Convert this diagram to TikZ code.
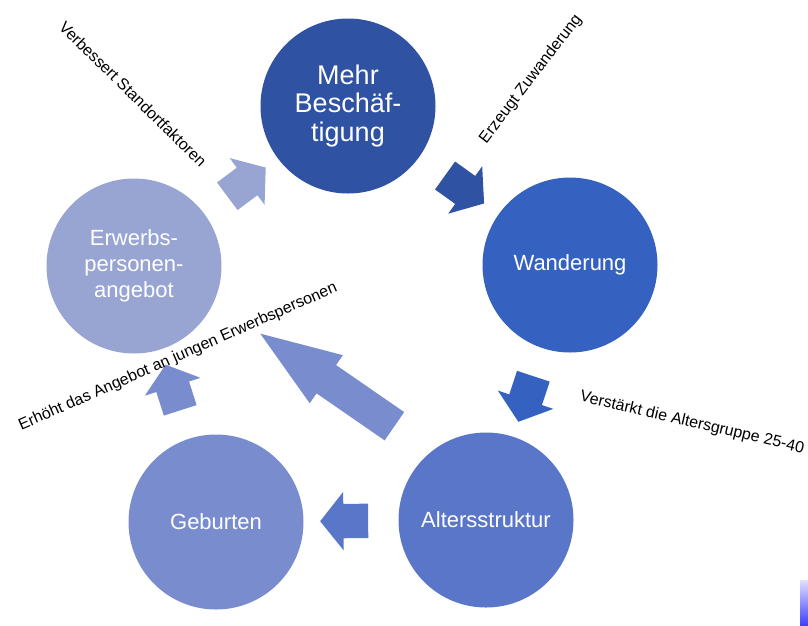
\documentclass[tikz,border=0pt]{standalone}
\usepackage{fontspec}
\setmainfont{Liberation Sans}
\usetikzlibrary{calc,shapes.arrows}
\definecolor{cMehr}{RGB}{47,82,163}
\definecolor{cWand}{RGB}{53,97,193}
\definecolor{cAlter}{RGB}{89,118,200}
\definecolor{cGeb}{RGB}{121,141,206}
\definecolor{cErw}{RGB}{152,165,210}

\begin{document}
\begin{tikzpicture}[x=1pt,y=-1pt,
  kreis/.style={circle,minimum size=175pt,inner sep=0pt,text=white,align=center,
    font=\fontsize{22}{26}\selectfont},
  pfeil/.style={single arrow,inner xsep=0pt,inner ysep=17pt,minimum height=48pt,
    single arrow head extend=12pt,single arrow tip angle=103},
  lab/.style={inner sep=0pt,font=\fontsize{16}{19}\selectfont}]
  \useasboundingbox (0,0) rectangle (808,625);

  % Kreise
  \node[kreis,fill=cMehr,font=\fontsize{27}{28.5}\selectfont] (mehr) at (348,106) {Mehr\\Beschäf-\\tigung};
  \node[kreis,fill=cWand] (wand) at (570,265) {Wanderung};
  \node[kreis,fill=cAlter] (alter) at (486,520) {Altersstruktur};
  \node[kreis,fill=cGeb] (geb) at (216,522) {Geburten};
  \node[kreis,fill=cErw] (erw) at (134,266) {Erwerbs-\\personen-\\angebot};

  % Pfeile im Kreis
  \foreach \von/\nach/\farbe in {erw/mehr/cErw,mehr/wand/cMehr,wand/alter/cWand,alter/geb/cAlter,geb/erw/cGeb} {
    \path let \p1=($(\nach)-(\von)$), \n1={atan2(\y1,\x1)} in
      node[pfeil,fill=\farbe,rotate=\n1] (p-\von) at ($(\von)!0.5!(\nach)$) {};
  }
  % langer Pfeil
  \path let \p1=($(erw)-(alter)$), \n1={atan2(\y1,\x1)+1.2} in
    node[pfeil,fill=cGeb,minimum height=163pt,single arrow tip angle=40,rotate=\n1] (p-lang)
      at ($(alter)!0.475!(erw)+(28,-6)$) {};

  % Beschriftungen
  \node[lab,rotate=-44.6] (l-stand) at (133,94) {Verbessert Standortfaktoren};
  \node[lab,rotate=52.6] (l-zuw) at (531,79) {Erzeugt Zuwanderung};
  \node[lab,rotate=-13.2] (l-alter) at (692,423) {Verstärkt die Altersgruppe 25-40};
  \node[lab,rotate=23.7] (l-jung) at (178,357) {Erhöht das Angebot an jungen Erwerbspersonen};

  % Rest am Rand
  \shade[top color=blue!12,bottom color=blue!75] (800,580) rectangle (808,625);
\end{tikzpicture}
\end{document}
